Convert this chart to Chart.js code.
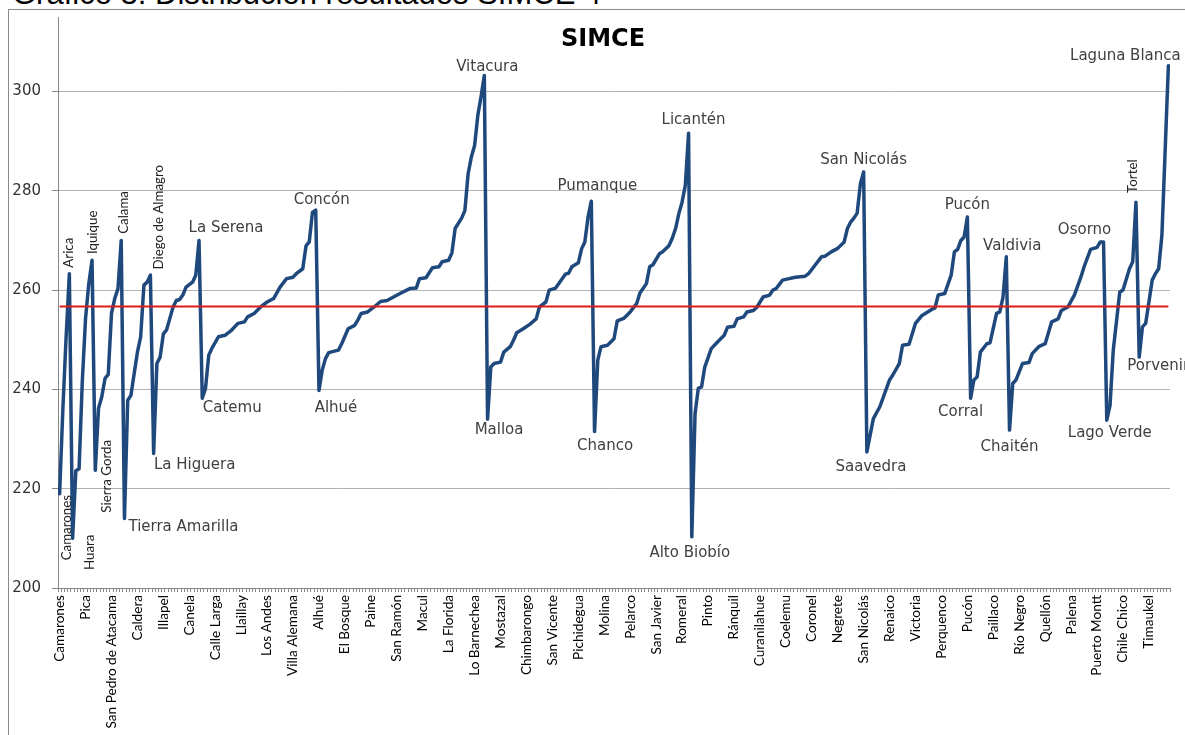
<!DOCTYPE html>
<html>
<head>
<meta charset="UTF-8">
<title>SIMCE</title>
<script src="https://cdn.jsdelivr.net/npm/chart.js@4.4.1/dist/chart.umd.min.js"></script>
<style>
    html, body { margin: 0; padding: 0; overflow: hidden; background: #fff; }
    #titulo-doc { position: absolute; left: 12px; top: -22px; font-family: 'Liberation Sans', Arial, sans-serif;
                  font-size: 31px; line-height: 31px; white-space: nowrap; color: #000; }
    #marco { position: absolute; left: 8px; top: 9px; width: 1200px; height: 760px; border: 1px solid #8a8a8a; }
    #marco canvas { position: absolute; left: 0; top: 0; }
    #titulo { position: absolute; left: 494px; top: 16px; width: 200px; text-align: center;
              font-family: 'DejaVu Sans', sans-serif; font-weight: bold; font-size: 24px; line-height: 24px; color: #000; }
</style>
</head>
<body>

<div id="titulo-doc">Gráfico 3: Distribución resultados SIMCE 4°</div>
<div id="marco">
    <canvas id="simceChart" width="1176" height="725"></canvas>
    <div id="titulo">SIMCE</div>
</div>

<script>
    // posición de la comuna en el eje (orden del gráfico) y su puntaje
    var pointIdx = [
        0, 1, 2, 3,                                                                  // Arica y Parinacota
        4, 5, 6, 7, 8, 9, 10,                                                        // Tarapacá
        11, 12, 13, 14, 15, 16, 17, 18, 19,                                          // Antofagasta
        20, 21, 22, 23, 24, 25, 26, 27, 28,                                          // Atacama
        29, 30, 31, 32, 33, 34, 35, 36, 37, 38, 39, 40, 41, 42, 43,                  // Coquimbo
        44, 45, 46, 47, 49, 51, 53, 55, 57, 58, 60, 62, 64, 66, 68, 70, 72, 73, 75, 76, 77, 78, 79,   // Valparaíso
        80, 81, 82, 83, 86, 87, 89, 91, 92, 93, 95, 97, 99, 101, 103, 105, 108, 110, 111, 113,
        115, 117, 118, 120, 121, 122, 124, 125, 126, 127, 128, 129, 130, 131,        // Metropolitana
        132, 133, 134, 136, 137, 139, 140, 141, 143, 145, 147, 148, 150, 151, 153, 156, 157, 158,
        160, 161, 162, 163, 164,                                                     // O'Higgins
        165, 166, 167, 169, 171, 172, 174, 176, 178, 179, 181, 182, 183, 185, 186, 188, 189, 190,
        191, 192, 193, 194,                                                          // Maule
        195, 196, 197, 198, 199, 201, 203, 205, 206, 208, 209, 211, 212, 214, 215, 217, 219, 220,
        221, 223, 225, 227, 230, 231, 233, 235, 236, 238, 240, 242, 243, 244, 245, 246, 247, 248,   // Biobío
        249, 251, 253, 256, 257, 259, 260, 262, 264, 266, 267, 269, 270, 271, 273, 275, 276, 277,
        278, 279, 280,                                                               // Araucanía
        281, 282, 283, 284, 286, 287, 289, 290, 291, 292,                            // Los Ríos
        293, 294, 295, 297, 299, 300, 302, 304, 306, 308, 309, 311, 313, 315, 316, 318, 320, 321, 322,  // Los Lagos
        323, 324, 325, 327, 328, 330, 331, 332,                                      // Aysén
        333, 334, 335, 336, 337, 338, 339, 340, 341, 342                             // Magallanes
    ];

    var simce = [
        219, 236, 250.5, 263.3,
        210, 223.6, 224, 241.7, 254.3, 261.3, 266,
        223.7, 236.2, 238.5, 242.2, 243, 255.3, 258.3, 260.3, 270,
        214, 237.8, 238.8, 243.2, 247.5, 250.6, 261, 261.6, 263,
        227.1, 245.2, 246.5, 251.2, 252, 254.3, 256.6, 257.9, 258.1, 259, 260.6, 261.1, 261.6, 263, 270,
        238.2, 240.2, 246.9, 248.3, 250.6, 250.9, 251.9, 253.3, 253.6, 254.6, 255.3, 256.6, 257.6, 258.3, 260.6, 262.3, 262.6, 263.3, 264.3, 268.9, 269.7, 275.7, 276.1,
        239.8, 243.9, 246.2, 247.4, 247.9, 249.2, 252.2, 252.9, 254, 255.3, 255.6, 256.6, 257.7, 257.9, 258.6, 259.3, 260.3, 260.4, 262.3, 262.5,
        264.5, 264.7, 265.7, 266, 267.5, 272.4, 274.5, 276, 283.4, 286.8, 289.1, 295.2, 299, 303.2,
        234, 244.5, 245.2, 245.5, 247.5, 248.6, 249.9, 251.4, 252.2, 253.1, 254.2, 256.6, 257.6, 260, 260.4, 263.2, 263.4, 264.7,
        265.5, 268.3, 269.7, 274.7, 277.9,
        231.5, 245.9, 248.6, 248.9, 250.2, 253.8, 254.3, 255.6, 257.3, 259.4, 261.3, 264.7, 265.1, 267.3, 267.7, 269, 270.5, 272.4,
        275.4, 277.7, 281.1, 291.6,
        210.3, 235.1, 240.2, 240.5, 244.5, 248.2, 249.6, 250.9, 252.5, 252.7, 254.2, 254.6, 255.6, 255.9, 256.5, 258.6, 259, 260,
        260.3, 262, 262.3, 262.6, 262.8, 263.3, 265, 266.7, 266.8, 267.7, 268.4, 269.7, 272.4, 273.7, 274.5, 275.5, 281.4, 283.8,
        227.4, 234.1, 236.5, 241.9, 242.9, 245.2, 248.9, 249.1, 253.3, 254.9, 255.3, 256.1, 256.4, 259, 259.3, 263, 267.7, 268.2,
        270, 270.7, 274.7,
        238.2, 241.9, 242.5, 247.5, 249.2, 249.4, 255.3, 255.6, 258.6, 266.7,
        231.8, 241.2, 241.9, 245.2, 245.4, 247.2, 248.6, 249.2, 253.6, 254.2, 255.9, 256.6, 259, 262.6, 264.7, 268.2, 268.6, 269.7, 269.7,
        233.8, 236.8, 247.9, 259.6, 260, 264.3, 265.7, 277.7,
        246.5, 252.6, 253.3, 257.6, 262, 263.3, 264.3, 271, 288, 305.2
    ];

    var promedioNacional = 256.7;

    // etiquetas del eje x (una cada 8 comunas)
    var tickIdx = [0, 8, 16, 24, 32, 40, 48, 56, 64, 72, 80, 88, 96, 104, 112, 120, 128, 136, 144, 152, 160, 168,
                   176, 184, 192, 200, 208, 216, 224, 232, 240, 248, 256, 264, 272, 280, 288, 296, 304, 312, 320, 328, 336];
    var tickNames = ['Camarones', 'Pica', 'San Pedro de Atacama', 'Caldera', 'Illapel', 'Canela', 'Calle Larga', 'Llaillay',
                     'Los Andes', 'Villa Alemana', 'Alhué', 'El Bosque', 'Paine', 'San Ramón', 'Macul', 'La Florida',
                     'Lo Barnechea', 'Mostazal', 'Chimbarongo', 'San Vicente', 'Pichidegua', 'Molina', 'Pelarco',
                     'San Javier', 'Romeral', 'Pinto', 'Ránquil', 'Curanilahue', 'Coelemu', 'Coronel', 'Negrete',
                     'San Nicolás', 'Renaico', 'Victoria', 'Perquenco', 'Pucón', 'Paillaco', 'Río Negro', 'Quellón',
                     'Palena', 'Puerto Montt', 'Chile Chico', 'Timaukel'];

    var yTicks = [200, 220, 240, 260, 280, 300];

    // comunas destacadas con su punto
    var puntosNombrados = [
        ['Camarones', 0], ['Arica', 3], ['Huara', 4], ['Iquique', 10], ['Sierra Gorda', 11], ['Calama', 19],
        ['Tierra Amarilla', 20], ['Diego de Almagro', 28], ['La Higuera', 29], ['La Serena', 43], ['Catemu', 44],
        ['Concón', 79], ['Alhué', 80], ['Vitacura', 131], ['Malloa', 132], ['Pumanque', 164], ['Chanco', 165],
        ['Licantén', 194], ['Alto Biobío', 195], ['San Nicolás', 248], ['Saavedra', 249], ['Pucón', 280],
        ['Corral', 281], ['Valdivia', 292], ['Chaitén', 293], ['Osorno', 322], ['Lago Verde', 323],
        ['Tortel', 332], ['Porvenir', 333], ['Laguna Blanca', 342]
    ];

    // desplazamiento del centro del texto respecto del punto, y si va vertical
    var posEtiqueta = {
        'Camarones': [7, 34, true], 'Arica': [-1, -21, true], 'Huara': [17, 14, true], 'Iquique': [1, -28, true],
        'Sierra Gorda': [11, 6, true], 'Calama': [2, -28, true], 'Diego de Almagro': [8, -58, true],
        'Tortel': [-3, -26, true],
        'Tierra Amarilla': [59, 8.5], 'La Higuera': [41, 11.5], 'La Serena': [27, -12], 'Catemu': [30, 10],
        'Concón': [6, -10], 'Alhué': [17, 17.6], 'Vitacura': [3, -8], 'Malloa': [11.5, 11], 'Pumanque': [6, -15],
        'Chanco': [10.5, 15], 'Licantén': [5, -13], 'Alto Biobío': [-2, 16], 'San Nicolás': [0, -12],
        'Saavedra': [4, 15], 'Pucón': [0, -12], 'Corral': [-10, 14], 'Valdivia': [6, -11], 'Chaitén': [0, 17],
        'Osorno': [-19, -12], 'Lago Verde': [3, 13], 'Porvenir': [19, 9], 'Laguna Blanca': [-43, -10]
    };

    var fuenteAngosta = "Lato, 'DejaVu Sans Condensed', sans-serif";

    var etiquetasPlugin = {
        id: 'etiquetas',
        afterDatasetsDraw: function (chart) {
            var ctx = chart.ctx, x = chart.scales.x, y = chart.scales.y;
            puntosNombrados.forEach(function (p) {
                var k = pointIdx.indexOf(p[1]);
                var pos = posEtiqueta[p[0]];
                ctx.save();
                ctx.translate(x.getPixelForValue(p[1]) + pos[0], y.getPixelForValue(simce[k]) + pos[1]);
                if (pos[2]) {
                    ctx.rotate(-Math.PI / 2);
                    ctx.font = '13.3px ' + fuenteAngosta;
                    ctx.fillStyle = '#222';
                } else {
                    ctx.font = "15px 'DejaVu Sans', sans-serif";
                    ctx.fillStyle = '#404040';
                }
                ctx.textAlign = 'center';
                ctx.textBaseline = 'middle';
                ctx.fillText(p[0], 0, 0);
                ctx.restore();
            });
        }
    };

    var nCat = pointIdx[pointIdx.length - 1] + 1;

    new Chart(document.getElementById('simceChart'), {
        type: 'line',
        data: {
            datasets: [
                {
                    label: 'SIMCE',
                    data: pointIdx.map(function (v, k) { return { x: v, y: simce[k] }; }),
                    borderColor: '#1f497d', borderWidth: 3.5, pointRadius: 0, tension: 0,
                    borderJoinStyle: 'round', borderCapStyle: 'round', order: 1
                },
                {
                    label: 'Promedio',
                    data: [{ x: pointIdx[0], y: promedioNacional }, { x: pointIdx[pointIdx.length - 1], y: promedioNacional }],
                    borderColor: '#dd1c1a', borderWidth: 2, pointRadius: 0, order: 0
                }
            ]
        },
        options: {
            responsive: false,
            animation: false,
            layout: { padding: { top: 7, right: 15, left: 0, bottom: 0 } },
            plugins: { legend: { display: false }, tooltip: { enabled: false }, title: { display: false } },
            scales: {
                x: {
                    type: 'linear', position: 'bottom', weight: 1,
                    min: -0.5, max: nCat - 0.5,
                    afterBuildTicks: function (s) { s.ticks = tickIdx.map(function (v) { return { value: v }; }); },
                    afterFit: function (s) { s.height = 147; s.paddingLeft = 0; s.paddingRight = 0; },
                    grid: { drawOnChartArea: false, drawTicks: false },
                    border: { display: true, color: '#868686', width: 1 },
                    ticks: {
                        autoSkip: false, minRotation: 90, maxRotation: 90, padding: 7, color: '#000',
                        font: { family: fuenteAngosta, size: 13.6 },
                        callback: function (v) { return tickNames[tickIdx.indexOf(v)]; }
                    }
                },
                xMinor: {
                    type: 'linear', position: 'bottom', weight: 0,
                    min: 0, max: nCat,
                    afterBuildTicks: function (s) {
                        var t = [];
                        for (var k = 0; k <= nCat; k++) t.push({ value: k });
                        s.ticks = t;
                    },
                    afterFit: function (s) { s.height = 0; s.paddingLeft = 0; s.paddingRight = 0; },
                    ticks: { display: false },
                    grid: { drawOnChartArea: false, drawTicks: true, tickLength: 4, color: '#868686' },
                    border: { display: false }
                },
                y: {
                    type: 'linear', min: 200, max: 315,
                    afterBuildTicks: function (s) { s.ticks = yTicks.map(function (v) { return { value: v }; }); },
                    afterFit: function (s) { s.width = 49; s.paddingTop = 0; s.paddingBottom = 0; },
                    grid: {
                        color: function (c) { return c.tick && c.tick.value === 200 ? '#868686' : '#b3b3b3'; },
                        tickColor: '#868686', tickLength: 6, drawTicks: true
                    },
                    border: { display: true, color: '#868686', width: 1 },
                    ticks: { padding: 11, color: '#333', font: { family: "'DejaVu Sans', sans-serif", size: 15 } }
                }
            }
        },
        plugins: [etiquetasPlugin]
    });
</script>

</body>
</html>
